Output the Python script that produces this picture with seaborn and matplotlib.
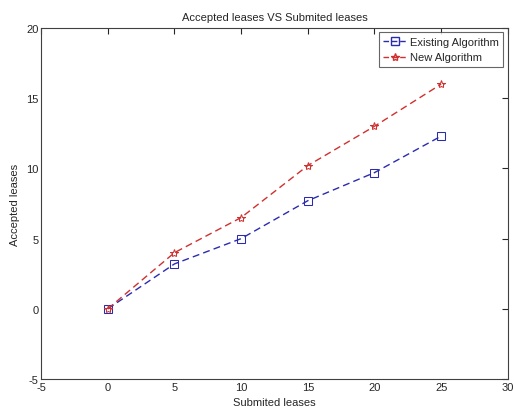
import matplotlib
matplotlib.use("Agg")
import matplotlib.pyplot as plt
import seaborn as sns
import pandas as pd
from matplotlib.lines import Line2D

submitted = [0, 5, 10, 15, 20, 25]
existing = [0, 3.2, 5.0, 7.7, 9.7, 12.3]
new_alg = [0, 4.0, 6.5, 10.2, 13.0, 16.0]
xticks = [-5, 0, 5, 10, 15, 20, 25, 30]
yticks = [-5, 0, 5, 10, 15, 20]

sns.set_style("white")
plt.rcParams['font.family'] = ['Liberation Sans Narrow', 'Liberation Sans', 'DejaVu Sans']
plt.rcParams['font.size'] = 8
plt.rcParams['axes.unicode_minus'] = False

df = pd.DataFrame({
    "Submitted": submitted * 2,
    "Accepted": existing + new_alg,
    "Series": ["Existing Algorithm"] * 6 + ["New Algorithm"] * 6,
})

fig = plt.figure(figsize=(5.14, 4.14), dpi=100)
ax = fig.add_axes([0.08, 0.082, 0.908, 0.848])

sns.lineplot(data=df, x="Submitted", y="Accepted", hue="Series", style="Series",
             palette={"Existing Algorithm": "#2b2bb0", "New Algorithm": "#d03030"},
             markers={"Existing Algorithm": "s", "New Algorithm": "*"},
             dashes={"Existing Algorithm": (5, 3), "New Algorithm": (5, 3)},
             markersize=6, linewidth=1, ax=ax, legend=False)

for line, c in zip(ax.get_lines(), ["#2b2bb0", "#d03030"]):
    line.set_markeredgecolor(c)
    line.set_markerfacecolor("none")

ax.set_xlim(-5, 30)
ax.set_ylim(-5, 20)
ax.set_xticks(xticks)
ax.set_yticks(yticks)
ax.tick_params(direction="in", top=True, right=True, length=4, width=0.8, labelsize=8, pad=2)
for s in ax.spines.values():
    s.set_linewidth(0.8)
    s.set_color("#404040")
ax.set_xlabel("Submited leases", fontsize=8, labelpad=4)
ax.set_ylabel("Accepted leases", fontsize=8, labelpad=4)
ax.set_title("Accepted leases VS Submited leases", fontsize=8, pad=6)

handles = [
    Line2D([], [], color="#2b2bb0", linestyle=(0, (4, 2)), marker="s", markerfacecolor="none", markersize=6, linewidth=1),
    Line2D([], [], color="#d03030", linestyle=(0, (4, 2)), marker="*", markerfacecolor="none", markersize=6, linewidth=1),
]
leg = ax.legend(handles, ["Existing Algorithm", "New Algorithm"], loc="upper right",
                fontsize=8, frameon=True, fancybox=False, edgecolor="#404040",
                borderaxespad=0.4, handlelength=2.0, handletextpad=0.4)
leg.get_frame().set_linewidth(0.8)

fig.savefig("out.png", dpi=100)
